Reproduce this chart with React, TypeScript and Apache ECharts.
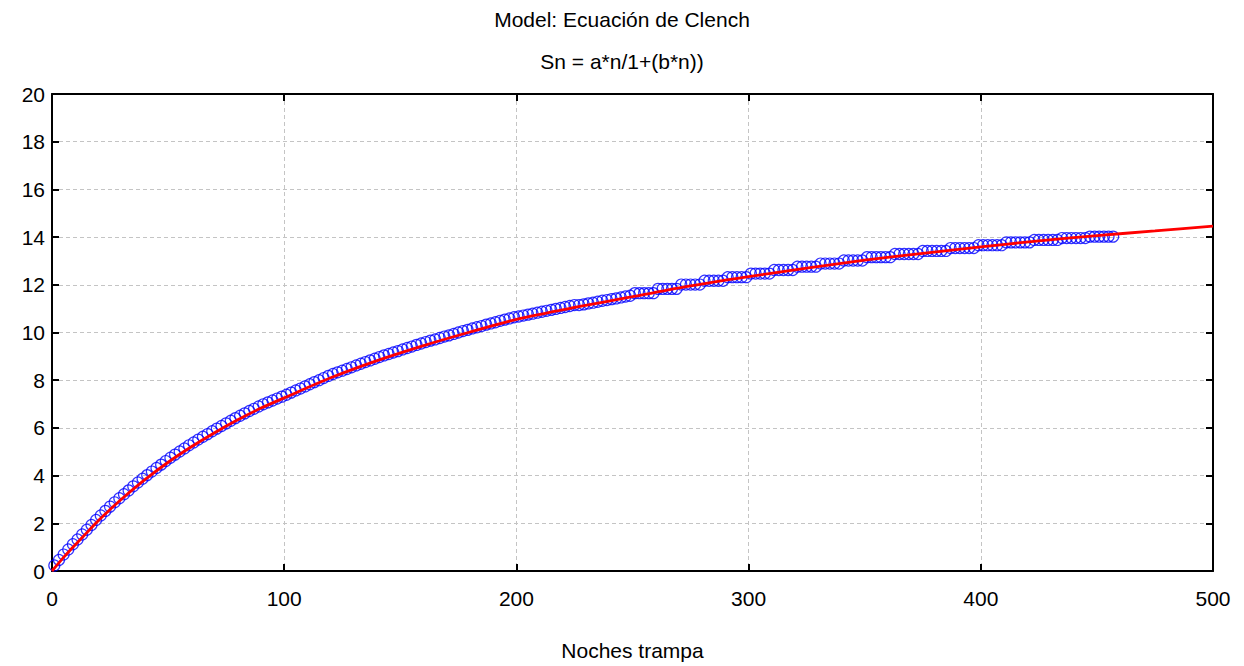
import React, { useEffect, useRef } from 'react';
import * as echarts from 'echarts';

// Observed accumulation points (night, species)
const nights = [
  1, 3, 5, 7, 9, 11, 13, 15, 17, 19, 21, 23, 25, 27, 29, 31, 33, 35, 37, 39,
  41, 43, 45, 47, 49, 51, 53, 55, 57, 59, 61, 63, 65, 67, 69, 71, 73, 75, 77, 79,
  81, 83, 85, 87, 89, 91, 93, 95, 97, 99, 101, 103, 105, 107, 109, 111, 113, 115, 117, 119,
  121, 123, 125, 127, 129, 131, 133, 135, 137, 139, 141, 143, 145, 147, 149, 151, 153, 155, 157, 159,
  161, 163, 165, 167, 169, 171, 173, 175, 177, 179, 181, 183, 185, 187, 189, 191, 193, 195, 197, 199,
  201, 203, 205, 207, 209, 211, 213, 215, 217, 219, 221, 223, 225, 227, 229, 231, 233, 235, 237, 239,
  241, 243, 245, 247, 249, 251, 253, 255, 257, 259, 261, 263, 265, 267, 269, 271, 273, 275, 277, 279,
  281, 283, 285, 287, 289, 291, 293, 295, 297, 299, 301, 303, 305, 307, 309, 311, 313, 315, 317, 319,
  321, 323, 325, 327, 329, 331, 333, 335, 337, 339, 341, 343, 345, 347, 349, 351, 353, 355, 357, 359,
  361, 363, 365, 367, 369, 371, 373, 375, 377, 379, 381, 383, 385, 387, 389, 391, 393, 395, 397, 399,
  401, 403, 405, 407, 409, 411, 413, 415, 417, 419, 421, 423, 425, 427, 429, 431, 433, 435, 437, 439,
  441, 443, 445, 447, 449, 451, 453, 455, 457,
];

const species = [
  0.23, 0.46, 0.69, 0.90, 1.12, 1.32, 1.53, 1.73, 1.93, 2.14, 2.33, 2.52, 2.70, 2.88, 3.05, 3.22, 3.38, 3.55, 3.71, 3.87,
  4.02, 4.17, 4.32, 4.46, 4.61, 4.75, 4.88, 5.01, 5.14, 5.27, 5.39, 5.51, 5.63, 5.74, 5.86, 5.97, 6.08, 6.19, 6.30, 6.41,
  6.51, 6.61, 6.71, 6.80, 6.90, 6.99, 7.07, 7.15, 7.23, 7.31, 7.39, 7.48, 7.57, 7.65, 7.74, 7.83, 7.92, 8.00, 8.09, 8.18,
  8.26, 8.33, 8.40, 8.47, 8.54, 8.62, 8.69, 8.76, 8.83, 8.90, 8.97, 9.04, 9.10, 9.16, 9.22, 9.29, 9.35, 9.41, 9.48, 9.54,
  9.60, 9.66, 9.71, 9.77, 9.83, 9.88, 9.94, 10.00, 10.06, 10.11, 10.17, 10.22, 10.27, 10.33, 10.38, 10.43, 10.49, 10.54, 10.59, 10.64,
  10.67, 10.71, 10.75, 10.79, 10.83, 10.87, 10.91, 10.95, 10.99, 11.03, 11.07, 11.11, 11.15, 11.15, 11.18, 11.22, 11.25, 11.29, 11.33, 11.36,
  11.40, 11.43, 11.47, 11.51, 11.54, 11.65, 11.65, 11.65, 11.65, 11.65, 11.83, 11.83, 11.83, 11.83, 11.83, 12.01, 12.01, 12.01, 12.01, 12.01,
  12.17, 12.17, 12.17, 12.17, 12.17, 12.32, 12.32, 12.32, 12.32, 12.32, 12.47, 12.47, 12.47, 12.47, 12.47, 12.62, 12.62, 12.62, 12.62, 12.62,
  12.76, 12.76, 12.76, 12.76, 12.76, 12.89, 12.89, 12.89, 12.89, 12.89, 13.02, 13.02, 13.02, 13.02, 13.02, 13.16, 13.16, 13.16, 13.16, 13.16,
  13.16, 13.29, 13.29, 13.29, 13.29, 13.29, 13.29, 13.42, 13.42, 13.42, 13.42, 13.42, 13.42, 13.54, 13.54, 13.54, 13.54, 13.54, 13.54, 13.66,
  13.66, 13.66, 13.66, 13.66, 13.66, 13.78, 13.78, 13.78, 13.78, 13.78, 13.78, 13.88, 13.88, 13.88, 13.88, 13.88, 13.88, 13.96, 13.96, 13.96,
  13.96, 13.96, 13.96, 14.02, 14.02, 14.02, 14.02, 14.02, 14.02,
];

// Fitted Clench model curve
const fitNights = [0, 5, 10, 15, 20, 25, 30, 40, 50, 60, 70, 80, 90, 100, 120, 140, 160, 180, 200, 225, 250, 275, 300, 325, 350, 375, 400, 425, 450, 475, 500];
const fitValues = [0, 0.57, 1.1, 1.61, 2.12, 2.58, 3.02, 3.83, 4.56, 5.21, 5.8, 6.34, 6.83, 7.26, 8.1, 8.82, 9.45, 10.02, 10.55, 11.05, 11.5, 11.95, 12.34, 12.7, 13.03, 13.32, 13.59, 13.84, 14.06, 14.26, 14.46];

const titleLine1 = 'Model: Ecuación de Clench';
const titleLine2 = 'Sn = a*n/1+(b*n))';
const xAxisName = 'Noches trampa';

export default function App() {
  const ref = useRef<HTMLDivElement>(null);

  useEffect(() => {
    if (!ref.current) return;
    const chart = echarts.init(ref.current, null, { renderer: 'svg' });
    const font = '"Liberation Sans", Arial, sans-serif';
    const fs = 21;
    const axisLine = { show: true, onZero: false, lineStyle: { color: '#000', width: 2 } };
    const axisTick = { show: true, inside: true, length: 7, lineStyle: { color: '#000', width: 2 } };
    const splitLine = { show: true, lineStyle: { color: '#c4c4c4', type: [4, 3], width: 1 } };

    chart.setOption({
      animation: false,
      backgroundColor: '#ffffff',
      textStyle: { fontFamily: font },
      title: [
        {
          text: titleLine1,
          left: 'center',
          top: 4,
          textStyle: { fontSize: fs, fontWeight: 'normal', color: '#000', fontFamily: font },
        },
        {
          text: titleLine2,
          left: 'center',
          top: 46,
          textStyle: { fontSize: fs, fontWeight: 'normal', color: '#000', fontFamily: font },
        },
      ],
      grid: { left: 52, right: 31, top: 94, bottom: 94, containLabel: false },
      xAxis: [
        {
          type: 'value',
          position: 'bottom',
          min: 0,
          max: 500,
          interval: 100,
          name: xAxisName,
          nameLocation: 'middle',
          nameGap: 69,
          nameTextStyle: { fontSize: fs, color: '#000', fontFamily: font },
          axisLine,
          axisTick,
          axisLabel: { fontSize: fs, color: '#000', margin: 17, fontFamily: font },
          splitLine,
        },
        {
          type: 'value',
          position: 'top',
          min: 0,
          max: 500,
          interval: 100,
          axisLine,
          axisTick,
          axisLabel: { show: false },
          splitLine: { show: false },
        },
      ],
      yAxis: [
        {
          type: 'value',
          position: 'left',
          min: 0,
          max: 20,
          interval: 2,
          axisLine,
          axisTick,
          axisLabel: { fontSize: fs, color: '#000', margin: 7, fontFamily: font },
          splitLine,
        },
        {
          type: 'value',
          position: 'right',
          min: 0,
          max: 20,
          interval: 2,
          axisLine,
          axisTick,
          axisLabel: { show: false },
          splitLine: { show: false },
        },
      ],
      series: [
        {
          type: 'scatter',
          xAxisIndex: 0,
          yAxisIndex: 0,
          data: nights.map((n, i) => [n, species[i]]),
          symbol: 'circle',
          symbolSize: 11,
          itemStyle: { color: 'rgba(0,0,0,0)', borderColor: '#0000ff', borderWidth: 1.2 },
          silent: true,
          z: 2,
        },
        {
          type: 'line',
          xAxisIndex: 0,
          yAxisIndex: 0,
          data: fitNights.map((n, i) => [n, fitValues[i]]),
          smooth: 0.3,
          showSymbol: false,
          symbol: 'none',
          lineStyle: { color: '#ff0000', width: 2.8 },
          silent: true,
          z: 3,
        },
      ],
    });

    return () => chart.dispose();
  }, []);

  return (
    <div
      ref={ref}
      style={{ position: 'absolute', left: 0, top: 0, width: 1244, height: 666, background: '#fff' }}
    />
  );
}
